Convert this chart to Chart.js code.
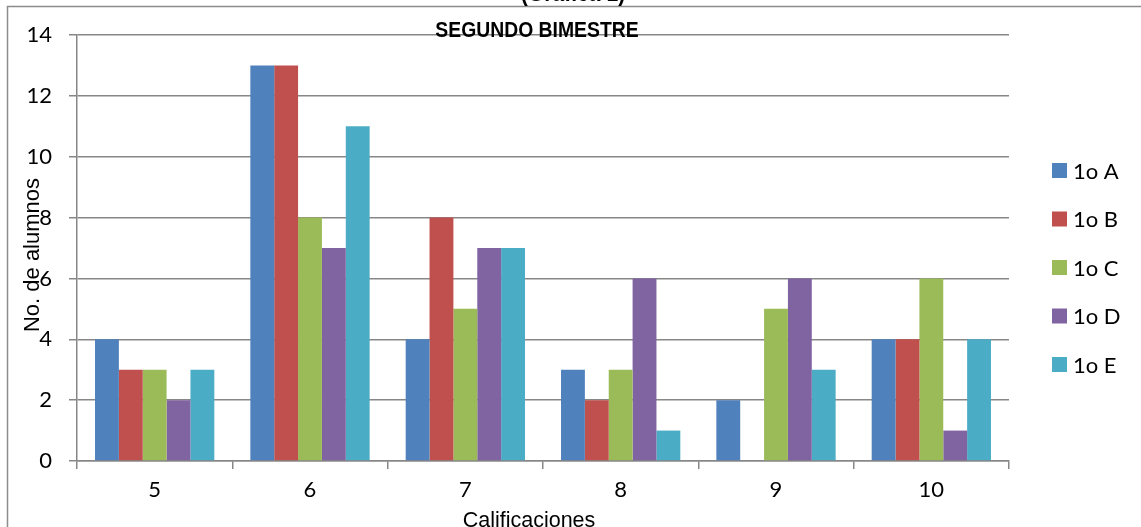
<!DOCTYPE html>
<html lang="es">
<head>
    <meta charset="UTF-8">
    <title>Segundo bimestre</title>
    <script src="https://cdn.jsdelivr.net/npm/chart.js"></script>
    <style>
        body { margin: 0; background: #fff; }
        #chart-container { width: 1141px; height: 527px; position: relative; }
    </style>
</head>
<body>
    <div id="chart-container">
        <canvas id="gradesChart"></canvas>
    </div>

    <script>
        // calificaciones (eje x)
        const categories = ['5', '6', '7', '8', '9', '10'];

        // numero de alumnos por grupo
        const grupoA = [4, 13, 4, 3, 2, 4];
        const grupoB = [3, 13, 8, 2, 0, 4];
        const grupoC = [3, 8, 5, 3, 5, 6];
        const grupoD = [2, 7, 7, 6, 6, 1];
        const grupoE = [3, 11, 7, 1, 3, 4];

        const seriesNames = ['1o A', '1o B', '1o C', '1o D', '1o E'];
        const yTicks = [0, 2, 4, 6, 8, 10, 12, 14];

        const colors = ['#4F81BD', '#C0504D', '#9BBB59', '#8064A2', '#4BACC6'];
        const gridColor = '#878787';
        const tickFont = { family: 'Lato, "Open Sans", sans-serif', size: 22 };

        const allSeries = [grupoA, grupoB, grupoC, grupoD, grupoE];

        // titulos, borde y leyenda dibujados a mano
        const decor = {
            id: 'decor',
            beforeDraw(chart) {
                const ctx = chart.ctx;
                ctx.save();
                ctx.fillStyle = '#fff';
                ctx.fillRect(0, 0, chart.width, chart.height);
                ctx.strokeStyle = '#8c8c8c';
                ctx.lineWidth = 1.5;
                ctx.beginPath();
                ctx.moveTo(7.5, chart.height);
                ctx.lineTo(7.5, 6.5);
                ctx.lineTo(chart.width, 6.5);
                ctx.stroke();
                ctx.restore();
            },
            afterDraw(chart) {
                const ctx = chart.ctx;
                ctx.save();
                ctx.fillStyle = '#000';
                ctx.textAlign = 'center';

                // titulo de la grafica (cortado arriba)
                ctx.save();
                ctx.translate(573, 1);
                ctx.scale(0.88, 1);
                ctx.font = 'bold 24px "Liberation Sans", Arial, sans-serif';
                ctx.textBaseline = 'alphabetic';
                ctx.fillText('(Gráfica 1)', 0, 0);
                ctx.restore();

                ctx.save();
                ctx.translate(537, 37);
                ctx.scale(0.88, 1);
                ctx.font = 'bold 22px "Liberation Sans", Arial, sans-serif';
                ctx.textBaseline = 'alphabetic';
                ctx.fillText('SEGUNDO BIMESTRE', 0, 0);
                ctx.restore();

                // titulos de ejes
                ctx.font = '21.5px "Liberation Sans", Arial, sans-serif';
                ctx.textBaseline = 'middle';
                ctx.fillText('Calificaciones', 529, 521);

                ctx.save();
                ctx.translate(33, 255);
                ctx.rotate(-Math.PI / 2);
                ctx.font = '22px "Liberation Sans", Arial, sans-serif';
                ctx.fillText('No. de alumnos', 0, 0);
                ctx.restore();

                // leyenda
                ctx.textAlign = 'left';
                ctx.font = '22px Lato, "Open Sans", sans-serif';
                chart.data.datasets.forEach((ds, i) => {
                    const y = 170.5 + i * 48.5;
                    ctx.fillStyle = ds.backgroundColor;
                    ctx.fillRect(1052, y - 7.5, 15, 15);
                    ctx.fillStyle = '#000';
                    ctx.fillText(ds.label, 1073, y + 1);
                });
                ctx.restore();
            }
        };

        new Chart(document.getElementById('gradesChart').getContext('2d'), {
            type: 'bar',
            data: {
                labels: categories,
                datasets: seriesNames.map((name, i) => ({
                    label: name,
                    data: allSeries[i],
                    backgroundColor: colors[i],
                    borderWidth: 0,
                    categoryPercentage: 0.768,
                    barPercentage: 1
                }))
            },
            options: {
                responsive: true,
                maintainAspectRatio: false,
                animation: false,
                layout: { padding: { top: 35, right: 132, bottom: 0, left: 0 } },
                plugins: {
                    legend: { display: false },
                    title: { display: false },
                    tooltip: { enabled: false }
                },
                scales: {
                    x: {
                        afterFit: s => { s.height = 66; },
                        grid: {
                            offset: true,
                            drawOnChartArea: false,
                            tickLength: 8,
                            color: gridColor,
                            lineWidth: 1.5
                        },
                        border: { display: true, color: gridColor, width: 1.5 },
                        ticks: { color: '#000', font: tickFont, padding: 8 }
                    },
                    y: {
                        min: 0,
                        max: 14,
                        afterFit: s => { s.width = 77; },
                        afterBuildTicks: s => { s.ticks = yTicks.map(v => ({ value: v })); },
                        grid: {
                            tickLength: 8,
                            color: gridColor,
                            lineWidth: 1.5
                        },
                        border: { display: true, color: gridColor, width: 1.5 },
                        ticks: { color: '#000', font: tickFont, padding: 17 }
                    }
                }
            },
            plugins: [decor]
        });
    </script>
</body>
</html>
